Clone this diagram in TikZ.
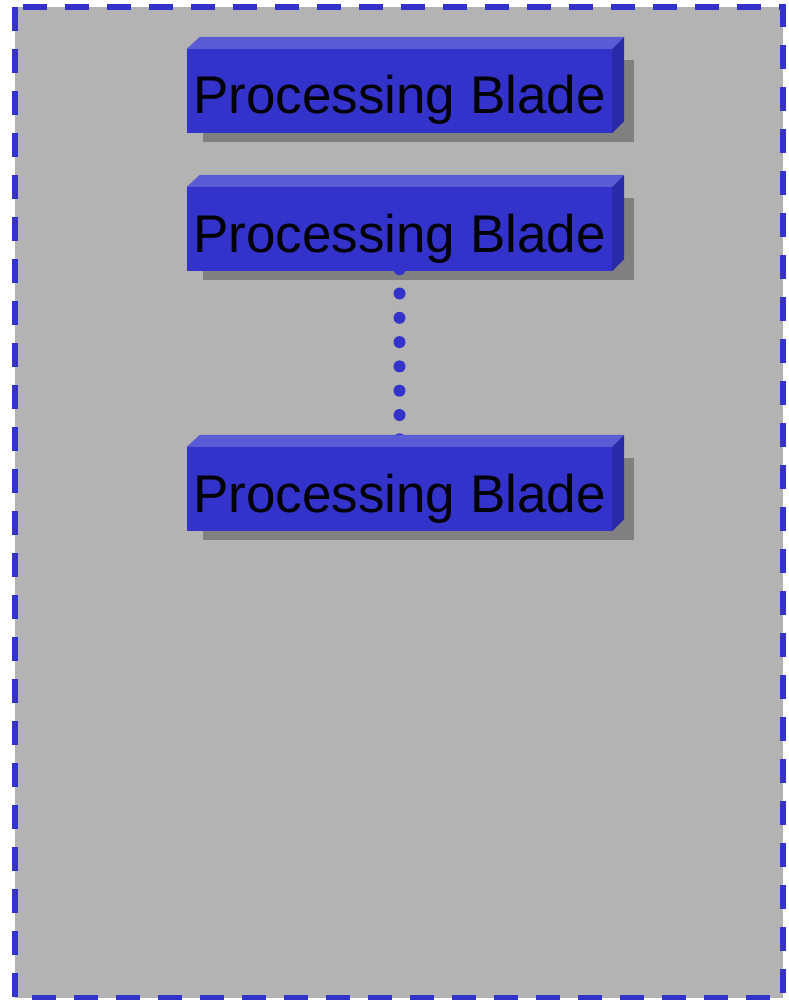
\documentclass[tikz,border=0pt]{standalone}
\usepackage{fontspec}
\setmainfont{Liberation Sans}
\pgfdeclarelayer{bg}
\pgfdeclarelayer{sh}
\pgfdeclarelayer{dt}
\pgfsetlayers{bg,sh,dt,main}
\definecolor{panelgray}{HTML}{B3B3B3}
\definecolor{bladefront}{HTML}{3333CC}
\definecolor{bladetop}{HTML}{5B5BD6}
\definecolor{bladeside}{HTML}{2A2AA8}
\definecolor{shadowgray}{HTML}{808080}
\tikzset{
  blade/.style={fill=bladefront, draw=none, inner sep=0pt, minimum width=425pt, minimum height=84pt,
    text height=52pt, text depth=6pt, font=\fontsize{53pt}{60pt}\selectfont, text=black},
  border/.style={draw=bladefront, line width=5.5pt, dash pattern=on 24pt off 18pt},
  dots/.style={draw=bladefront, line width=12pt, line cap=round, dash pattern=on 0pt off 24.3pt}
}
\newcommand{\bladeextras}[1]{%
  \fill[bladetop] (#1.north west) -- ++(13,-12) -- ([shift={(12,-12)}]#1.north east) -- (#1.north east) -- cycle;
  \fill[bladeside] (#1.north east) -- ++(12,-12) -- ([shift={(12,-12)}]#1.south east) -- (#1.south east) -- cycle;
  \begin{pgfonlayer}{sh}
    \fill[shadowgray] ([shift={(16,11)}]#1.north west) rectangle ([shift={(22,9)}]#1.south east);
  \end{pgfonlayer}
}
\begin{document}
\begin{tikzpicture}[x=1pt,y=-1pt]
\useasboundingbox (0,0) rectangle (788,1000);
\begin{pgfonlayer}{bg}
  \fill[panelgray] (15,7) rectangle (783,998);
  \draw[border] (15,7) -- (15,998) -- (783,998) -- (783,7) -- cycle;
\end{pgfonlayer}
\node[blade] (b1) at (399.5,91) {Processing Blade};
\node[blade] (b2) at (399.5,229) {Processing Blade};
\node[blade] (b3) at (399.5,489) {Processing Blade};
\bladeextras{b1}
\bladeextras{b2}
\bladeextras{b3}
\begin{pgfonlayer}{dt}
  \draw[dots] ([shift={(0,-2)}]b2.south) -- ([shift={(0,-7)}]b3.north);
\end{pgfonlayer}
\end{tikzpicture}
\end{document}
